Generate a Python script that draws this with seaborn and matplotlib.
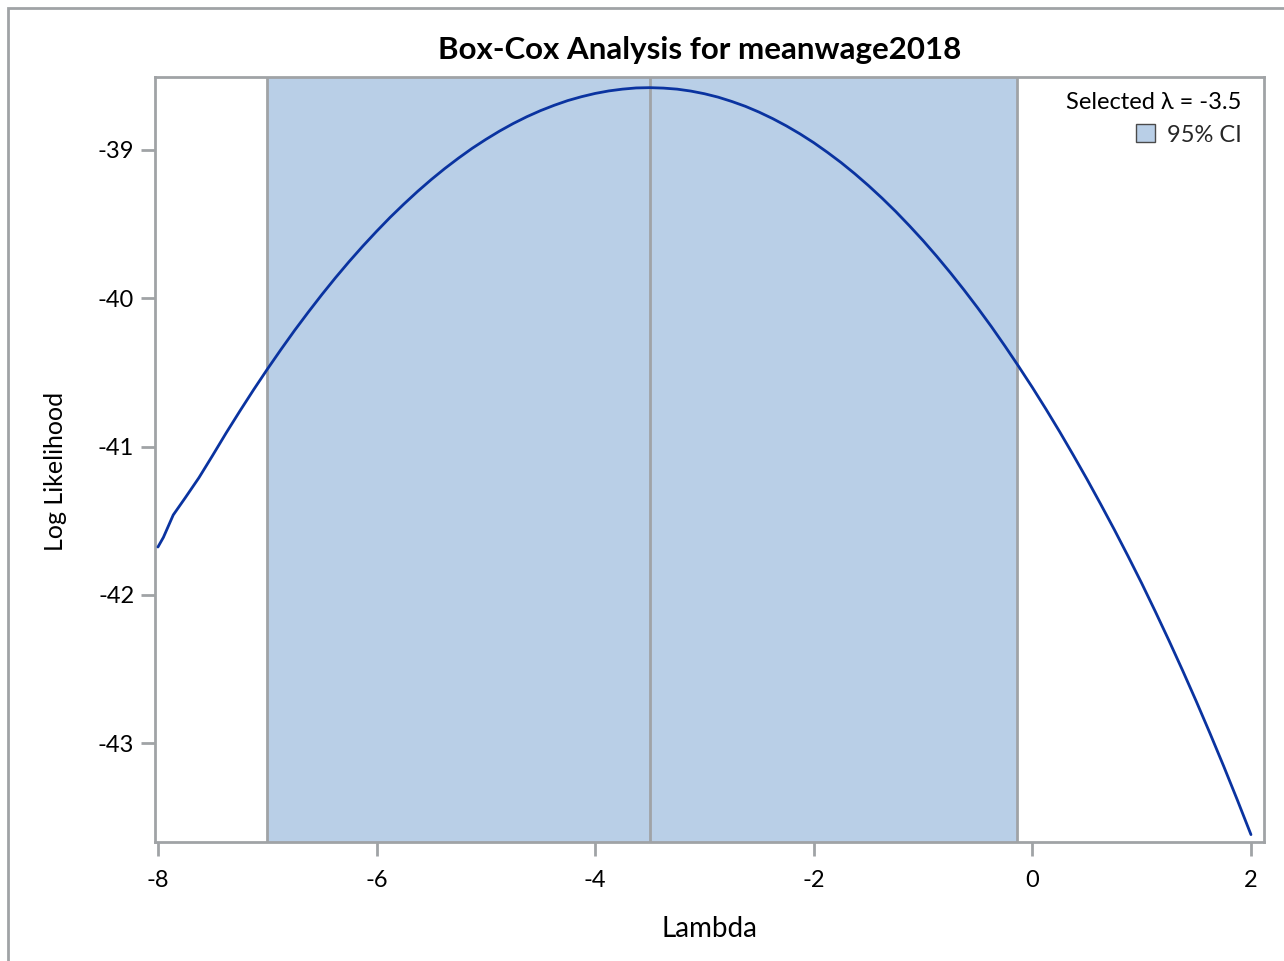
import matplotlib
matplotlib.use("Agg")
import matplotlib.pyplot as plt
import matplotlib.patches as mpatches
import seaborn as sns
import pandas as pd

# Box-Cox profile log likelihood over lambda
lambdas = [-8.0, -7.95, -7.86, -7.75,
           -7.625, -7.5, -7.375, -7.25, -7.125, -7.0, -6.875, -6.75,
           -6.625, -6.5, -6.375, -6.25, -6.125, -6.0, -5.875, -5.75,
           -5.625, -5.5, -5.375, -5.25, -5.125, -5.0, -4.875, -4.75,
           -4.625, -4.5, -4.375, -4.25, -4.125, -4.0, -3.875, -3.75,
           -3.625, -3.5, -3.375, -3.25, -3.125, -3.0, -2.875, -2.75,
           -2.625, -2.5, -2.375, -2.25, -2.125, -2.0, -1.875, -1.75,
           -1.625, -1.5, -1.375, -1.25, -1.125, -1.0, -0.875, -0.75,
           -0.625, -0.5, -0.375, -0.25, -0.125, 0.0, 0.125, 0.25,
           0.375, 0.5, 0.625, 0.75, 0.875, 1.0, 1.125, 1.25,
           1.375, 1.5, 1.625, 1.75, 1.875, 2.0]
log_lik = [-41.677, -41.612, -41.461, -41.345,
           -41.210, -41.060, -40.907, -40.760, -40.617, -40.479, -40.346, -40.217,
           -40.094, -39.975, -39.861, -39.752, -39.648, -39.549, -39.454, -39.365,
           -39.280, -39.200, -39.125, -39.055, -38.989, -38.929, -38.873, -38.822,
           -38.776, -38.735, -38.699, -38.667, -38.641, -38.619, -38.602, -38.590,
           -38.582, -38.580, -38.583, -38.590, -38.603, -38.621, -38.644, -38.673,
           -38.706, -38.745, -38.789, -38.838, -38.892, -38.951, -39.016, -39.085,
           -39.160, -39.240, -39.325, -39.415, -39.511, -39.611, -39.717, -39.828,
           -39.944, -40.065, -40.191, -40.323, -40.460, -40.601, -40.748, -40.900,
           -41.058, -41.220, -41.388, -41.560, -41.738, -41.921, -42.112, -42.308,
           -42.510, -42.718, -42.933, -43.154, -43.382, -43.616]

selected_lambda = -3.5
ci_lower = -7.0
ci_upper = -0.14

x_ticks = [-8, -6, -4, -2, 0, 2]
y_ticks = [-43, -42, -41, -40, -39]

df = pd.DataFrame({"Lambda": lambdas, "Log Likelihood": log_lik})

sns.set_theme(style="white")
plt.rcParams["font.family"] = ["Lato", "DejaVu Sans"]

frame_gray = "#a0a3a6"
fill_blue = "#b9cfe7"
line_blue = "#0a33a0"

fig = plt.figure(figsize=(12.84, 9.61), dpi=100)
ax = fig.add_axes([0.1207, 0.1238, 0.9844 - 0.1207, 0.9199 - 0.1238])

ax.axvspan(ci_lower, ci_upper, color=fill_blue, lw=0, zorder=0)
for xv in (ci_lower, selected_lambda, ci_upper):
    ax.axvline(xv, color=frame_gray, lw=2, zorder=1)

sns.lineplot(data=df, x="Lambda", y="Log Likelihood", ax=ax,
             color=line_blue, lw=2, zorder=3)

ax.set_xlim(-8.027, 2.119)
ax.set_ylim(-43.666, -38.508)
ax.set_xticks(x_ticks)
ax.set_xticklabels([str(t) for t in x_ticks])
ax.set_yticks(y_ticks)
ax.set_yticklabels([str(t) for t in y_ticks])

for s in ax.spines.values():
    s.set_visible(True)
    s.set_color(frame_gray)
    s.set_linewidth(2)

ax.tick_params(axis="both", which="major", direction="out", length=10, width=2,
               color=frame_gray, labelsize=17, labelcolor="black", pad=5)
ax.tick_params(axis="x", pad=10)
ax.tick_params(left=True, bottom=True)

ax.set_xlabel("Lambda", fontsize=20, color="black", labelpad=18)
ax.set_ylabel("Log Likelihood", fontsize=18, color="black")
ax.yaxis.set_label_coords(-0.079, 0.484)
ax.set_title("Box-Cox Analysis for meanwage2018", fontsize=22.5, fontweight="bold",
             color="black", pad=13, x=0.491)

ci_patch = mpatches.Patch(facecolor=fill_blue, edgecolor="#4a4a4a", lw=1, label="95% CI")
leg = ax.legend(handles=[ci_patch], loc="upper right", bbox_to_anchor=(0.993, 1.0),
                frameon=False, fontsize=17,
                title=f"Selected λ = {selected_lambda}", title_fontsize=17,
                handlelength=0.8, handleheight=0.8, handletextpad=0.5,
                borderaxespad=0.55, borderpad=0.07, labelspacing=0.5,
                alignment="right")
leg.get_title().set_color("black")

# outer border around the graph
fig.patches.append(mpatches.Rectangle((8 / 1284, -0.05), 1.1, 1 - 8 / 961 + 0.05,
                                      transform=fig.transFigure, fill=False,
                                      edgecolor=frame_gray, lw=2))

fig.savefig("out.png", dpi=100)
